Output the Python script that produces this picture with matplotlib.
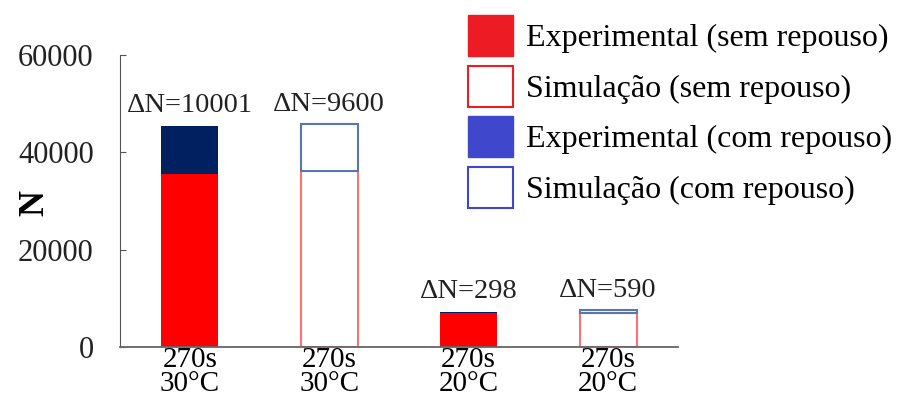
import matplotlib
matplotlib.use("Agg")
from matplotlib import pyplot
from matplotlib.patches import Patch

pyplot.rcParams['font.family'] = ['Liberation Serif', 'DejaVu Serif']

categories = ["270s\n30°C", "270s\n30°C", "270s\n20°C", "270s\n20°C"]
sem_repouso = [35500, 36200, 7000, 7000]
delta_n = [10001, 9600, 298, 590]
simulated = [False, True, False, True]

legend_labels = ["Experimental (sem repouso)", "Simulação (sem repouso)",
                 "Experimental (com repouso)", "Simulação (com repouso)"]

fig = pyplot.figure(figsize=(8.99, 4.04), dpi=100)
ax = fig.add_axes([0.1335, 0.141, 0.6205, 0.723])

x = range(len(categories))
w = 0.41
for i in x:
	if simulated[i]:
		ax.bar(i, sem_repouso[i], w, color='white', edgecolor='#ff7070', linewidth=1.5)
		ax.bar(i, delta_n[i], w, bottom=sem_repouso[i], color='white', edgecolor='#5a76b0', linewidth=1.5)
	else:
		ax.bar(i, sem_repouso[i], w, color='#ff0000', edgecolor='none')
		ax.bar(i, delta_n[i], w, bottom=sem_repouso[i], color='#002060', edgecolor='none')
	top = sem_repouso[i] + delta_n[i]
	ax.text(i, top + 1500, "ΔN=%d" % delta_n[i], ha='center', va='bottom', fontsize=20.5, color='#222222')

ax.set_xlim(-0.5, 3.5)
ax.set_ylim(0, 60000)
ax.set_yticks([0, 20000, 40000, 60000])
ax.set_xticks(list(x))
ax.set_xticklabels(categories, fontsize=21, linespacing=0.92)
ax.tick_params(axis='x', length=0, pad=0)
ax.tick_params(axis='y', direction='in', length=4, labelsize=22, pad=19, color='#555555', labelcolor='#222222')
for s in ['top', 'right']:
	ax.spines[s].set_visible(False)
ax.spines['left'].set_color('#555555')
ax.spines['bottom'].set_color('#666666')
ax.spines['bottom'].set_linewidth(1.3)
fig.text(35 / 899, 1 - 203 / 404, "N", rotation=90, ha='center', va='center', fontsize=26, fontweight='bold')

handles = [Patch(facecolor='#ed1c24', edgecolor='#ed1c24'),
           Patch(facecolor='white', edgecolor='#ed1c24', linewidth=1.5),
           Patch(facecolor='#3f48cc', edgecolor='#3f48cc'),
           Patch(facecolor='white', edgecolor='#3f48cc', linewidth=1.5)]
fig.legend(handles, legend_labels, loc='upper left', bbox_to_anchor=(0.5206, 0.963),
           frameon=False, fontsize=23, handlelength=1.4, handleheight=1.6,
           handletextpad=0.4, labelspacing=0.3, borderpad=0, borderaxespad=0)

pyplot.savefig("out.png", dpi=100)
